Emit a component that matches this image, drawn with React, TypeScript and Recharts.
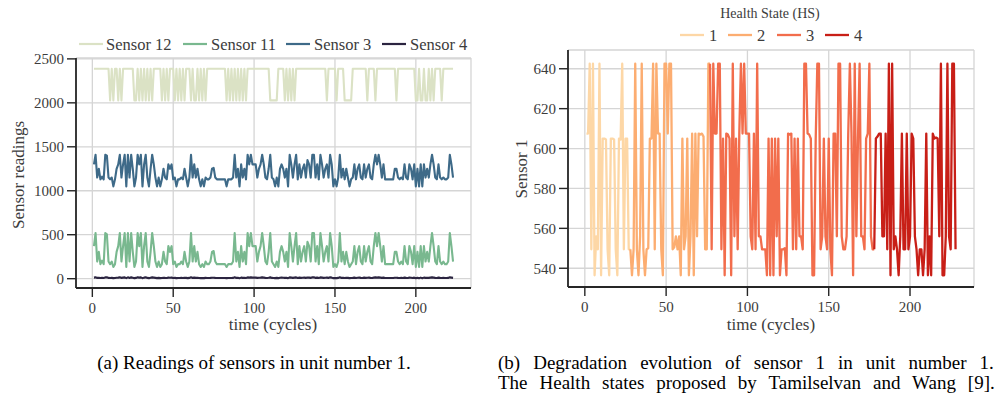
import React from 'react';
import { LineChart, Line, XAxis, YAxis, CartesianGrid } from 'recharts';

// ---------- Panel (a): readings of sensors in unit number 1 ----------
const sensor12 = [
  2388, 2388, 2388, 2388, 2388, 2388, 2388, 2388, 2388, 2388,
  2028, 2388, 2028, 2388, 2388, 2028, 2388, 2028, 2388, 2388,
  2388, 2388, 2388, 2388, 2388, 2028, 2028, 2388, 2028, 2388,
  2028, 2388, 2028, 2388, 2028, 2388, 2028, 2388, 2388, 2388,
  2388, 2388, 2028, 2388, 2028, 2388, 2028, 2388, 2388, 2388,
  2028, 2388, 2028, 2388, 2028, 2388, 2028, 2388, 2388, 2388,
  2028, 2388, 2028, 2028, 2388, 2028, 2388, 2028, 2388, 2028,
  2388, 2388, 2388, 2388, 2388, 2388, 2388, 2388, 2388, 2388,
  2388, 2388, 2028, 2388, 2028, 2388, 2028, 2388, 2028, 2388,
  2028, 2388, 2028, 2388, 2028, 2388, 2388, 2388, 2388, 2388,
  2388, 2388, 2388, 2388, 2388, 2388, 2388, 2388, 2388, 2028,
  2028, 2028, 2028, 2028, 2388, 2388, 2388, 2388, 2028, 2388,
  2028, 2388, 2028, 2388, 2028, 2388, 2388, 2388, 2388, 2388,
  2388, 2388, 2388, 2388, 2388, 2388, 2388, 2388, 2388, 2388,
  2388, 2388, 2388, 2388, 2028, 2388, 2388, 2388, 2388, 2388,
  2028, 2388, 2388, 2388, 2388, 2028, 2028, 2028, 2028, 2028,
  2388, 2388, 2388, 2388, 2388, 2388, 2388, 2388, 2388, 2028,
  2388, 2388, 2388, 2388, 2028, 2388, 2388, 2388, 2388, 2388,
  2388, 2388, 2388, 2388, 2388, 2388, 2388, 2028, 2388, 2388,
  2388, 2388, 2388, 2388, 2388, 2388, 2388, 2388, 2388, 2028,
  2028, 2388, 2028, 2028, 2388, 2028, 2028, 2388, 2028, 2388,
  2028, 2388, 2388, 2388, 2388, 2028, 2388, 2388, 2388, 2388,
  2388, 2388, 2388,
];

const sensor11 = [
  370, 520, 195, 305, 165, 205, 165, 520, 505, 195,
  165, 195, 133, 165, 305, 370, 520, 195, 370, 520,
  133, 520, 195, 520, 305, 133, 195, 520, 370, 520,
  133, 370, 520, 195, 133, 305, 520, 370, 195, 133,
  195, 133, 165, 305, 195, 165, 370, 305, 370, 165,
  195, 133, 165, 165, 195, 165, 305, 195, 133, 195,
  520, 195, 370, 195, 305, 165, 133, 165, 133, 195,
  165, 165, 195, 305, 315, 195, 165, 165, 165, 165,
  165, 165, 133, 165, 165, 165, 195, 520, 195, 305,
  133, 370, 195, 305, 165, 520, 370, 520, 370, 370,
  370, 195, 305, 370, 520, 370, 195, 165, 305, 520,
  195, 165, 133, 195, 133, 305, 370, 305, 195, 305,
  133, 520, 370, 195, 370, 520, 165, 370, 195, 305,
  370, 195, 420, 370, 195, 520, 520, 195, 370, 165,
  520, 370, 195, 305, 370, 195, 520, 370, 133, 165,
  133, 195, 520, 195, 305, 165, 305, 195, 133, 165,
  195, 370, 165, 305, 370, 195, 165, 370, 195, 305,
  370, 195, 165, 370, 520, 370, 520, 370, 195, 370,
  165, 165, 165, 165, 165, 165, 305, 305, 195, 165,
  195, 165, 370, 195, 165, 370, 305, 165, 370, 133,
  305, 133, 370, 133, 370, 195, 305, 195, 370, 520,
  370, 195, 165, 370, 195, 165, 195, 165, 165, 195,
  520, 370, 195,
];

const sensor3 = [
  1300, 1410, 1150, 1250, 1130, 1160, 1130, 1410, 1400, 1150,
  1130, 1150, 1050, 1130, 1250, 1300, 1410, 1150, 1300, 1410,
  1050, 1410, 1150, 1410, 1250, 1050, 1150, 1410, 1300, 1410,
  1050, 1300, 1410, 1150, 1050, 1250, 1410, 1300, 1150, 1050,
  1150, 1050, 1130, 1250, 1150, 1130, 1300, 1250, 1300, 1130,
  1150, 1050, 1130, 1130, 1150, 1130, 1250, 1150, 1050, 1150,
  1410, 1150, 1300, 1150, 1250, 1130, 1050, 1130, 1050, 1150,
  1130, 1130, 1150, 1250, 1260, 1150, 1130, 1130, 1130, 1130,
  1130, 1130, 1050, 1130, 1130, 1130, 1150, 1410, 1150, 1250,
  1050, 1300, 1150, 1250, 1130, 1410, 1300, 1410, 1300, 1300,
  1300, 1150, 1250, 1300, 1410, 1300, 1150, 1130, 1250, 1410,
  1150, 1130, 1050, 1150, 1050, 1250, 1300, 1250, 1150, 1250,
  1050, 1410, 1300, 1150, 1300, 1410, 1130, 1300, 1150, 1250,
  1300, 1150, 1350, 1300, 1150, 1410, 1410, 1150, 1300, 1130,
  1410, 1300, 1150, 1250, 1300, 1150, 1410, 1300, 1050, 1130,
  1050, 1150, 1410, 1150, 1250, 1130, 1250, 1150, 1050, 1130,
  1150, 1300, 1130, 1250, 1300, 1150, 1130, 1300, 1150, 1250,
  1300, 1150, 1130, 1300, 1410, 1300, 1410, 1300, 1150, 1300,
  1130, 1130, 1130, 1130, 1130, 1130, 1250, 1250, 1150, 1130,
  1150, 1130, 1300, 1150, 1130, 1300, 1250, 1130, 1300, 1050,
  1250, 1050, 1300, 1050, 1300, 1150, 1250, 1150, 1300, 1410,
  1300, 1150, 1130, 1300, 1150, 1130, 1150, 1130, 1130, 1150,
  1410, 1300, 1150,
];

const sensor4 = [
  12, 15, 9, 11, 8, 9, 8, 15, 15, 9,
  8, 9, 6, 8, 11, 12, 15, 9, 12, 15,
  6, 15, 9, 15, 11, 6, 9, 15, 12, 15,
  6, 12, 15, 9, 6, 11, 15, 12, 9, 6,
  9, 6, 8, 11, 9, 8, 12, 11, 12, 8,
  9, 6, 8, 8, 9, 8, 11, 9, 6, 9,
  15, 9, 12, 9, 11, 8, 6, 8, 6, 9,
  8, 8, 9, 11, 11, 9, 8, 8, 8, 8,
  8, 8, 6, 8, 8, 8, 9, 15, 9, 11,
  6, 12, 9, 11, 8, 15, 12, 15, 12, 12,
  12, 9, 11, 12, 15, 12, 9, 8, 11, 15,
  9, 8, 6, 9, 6, 11, 12, 11, 9, 11,
  6, 15, 12, 9, 12, 15, 8, 12, 9, 11,
  12, 9, 13, 12, 9, 15, 15, 9, 12, 8,
  15, 12, 9, 11, 12, 9, 15, 12, 6, 8,
  6, 9, 15, 9, 11, 8, 11, 9, 6, 8,
  9, 12, 8, 11, 12, 9, 8, 12, 9, 11,
  12, 9, 8, 12, 15, 12, 15, 12, 9, 12,
  8, 8, 8, 8, 8, 8, 11, 11, 9, 8,
  9, 8, 12, 9, 8, 12, 11, 8, 12, 6,
  11, 6, 12, 6, 12, 9, 11, 9, 12, 15,
  12, 9, 8, 12, 9, 8, 9, 8, 8, 9,
  15, 12, 9,
];

const seriesA = [
  { key: 's12', name: 'Sensor 12', color: '#dbe2c5' },
  { key: 's11', name: 'Sensor 11', color: '#79b88f' },
  { key: 's3', name: 'Sensor 3', color: '#3e6a88' },
  { key: 's4', name: 'Sensor 4', color: '#2b2440' },
];
const xTicksA = [0, 50, 100, 150, 200];
const yTicksA = [0, 500, 1000, 1500, 2000, 2500];

// ---------- Panel (b): sensor 1 with health states ----------
const sensor1 = [
  607.5, 607.5, 642.5, 549.5, 642.5, 536.5, 556, 549.5, 642.5, 536.5,
  605, 605, 604.5, 549.5, 536.5, 605, 605, 604.5, 549.5, 536.5,
  605, 604.5, 642.5, 549.5, 605, 605, 549.5, 549.5, 536.5, 549.5,
  642.5, 549.5, 536.5, 556, 642.5, 549.5, 536.5, 549.5, 550, 605,
  605, 642.5, 549.5, 642.5, 607.5, 607.5, 549.5, 536.5, 642.5, 642.5,
  607.5, 642.5, 642.5, 549.5, 550.5, 556, 549.5, 556, 536.5, 605,
  549.5, 556, 605, 536.5, 556, 607.5, 536.5, 607.5, 556, 607.5,
  607, 607.5, 606, 549.5, 549.5, 642.5, 642.5, 549.5, 642.5, 607.5,
  607.5, 642.5, 642.5, 549.5, 605, 536.5, 607.5, 607, 605, 536.5,
  642.5, 556, 605, 549.5, 607.5, 642.5, 607.5, 642.5, 607.5, 607.5,
  607.5, 556, 549.5, 607.5, 549.5, 642.5, 556, 556, 549.5, 549.5,
  549.5, 536.5, 605, 536.5, 605, 536.5, 605, 556, 605, 536.5,
  549.5, 549.5, 550, 536.5, 607.5, 607, 607.5, 549.5, 605, 549.5,
  605, 556, 556, 549.5, 642.5, 642.5, 607.5, 607, 605, 536.5,
  536.5, 605, 642.5, 642.5, 549.5, 556, 605, 556, 549.5, 605,
  549.5, 536.5, 607.5, 607.5, 556, 642.5, 642.5, 556, 549.5, 549.5,
  556, 607.5, 642.5, 607.5, 536.5, 642.5, 556, 605, 642.5, 556,
  556, 549.5, 605, 607.5, 642.5, 556, 549.5, 549.5, 605, 606,
  607.5, 607.5, 556, 556, 607.5, 549.5, 642.5, 536.5, 642.5, 549.5,
  556, 549.5, 536.5, 556, 607.5, 549.5, 549.5, 607.5, 549.5, 556,
  607.5, 605, 556, 549.5, 536.5, 549.5, 549.5, 536.5, 549.5, 607.5,
  536.5, 556, 536.5, 607.5, 605, 605.5, 605, 556, 642.5, 536.5,
  536.5, 556, 642.5, 556, 549.5, 642.5, 642.5, 549.5,
];

// first and last cycle of each health state (neighbouring states share a point)
const healthStateStart = [1, 28, 77, 178];
const healthStateEnd = [28, 77, 178, 228];
const healthStateLabels = ['1', '2', '3', '4'];
const healthStateColors = ['#fdd7a6', '#fcad71', '#f26d4c', '#c81f17'];
const xTicksB = [0, 50, 100, 150, 200];
const yTicksB = [540, 560, 580, 600, 620, 640];

const rowsA = sensor12.map((v, i) => ({
  cycle: i + 1,
  s12: v,
  s11: sensor11[i],
  s3: sensor3[i],
  s4: sensor4[i],
}));

const rowsB = sensor1.map((v, i) => {
  const cycle = i + 1;
  const row: Record<string, number> = { cycle };
  healthStateStart.forEach((s, k) => {
    if (cycle >= s && cycle <= healthStateEnd[k]) row['hs' + (k + 1)] = v;
  });
  return row;
});

const FONT = '"Liberation Serif", "DejaVu Serif", serif';
const tickStyle = { fill: '#3c3c3c', fontSize: 15, fontFamily: FONT };
const axisLineStyle = { stroke: '#262626', strokeWidth: 1.8 };
const tickLineStyle = { stroke: '#262626', strokeWidth: 1.4 };
const GRID = '#d5d5d5';

export default function App() {
  return (
    <div style={{ position: 'absolute', left: 0, top: 0, width: 998, height: 398, background: '#fff', overflow: 'hidden' }}>
      <div style={{ position: 'absolute', left: 0, top: 0 }}>
        <LineChart width={480} height={340} data={rowsA} margin={{ top: 58, right: 9, bottom: 22, left: 0 }}>
          <CartesianGrid stroke={GRID} strokeWidth={1.3} />
          <XAxis
            dataKey="cycle"
            type="number"
            domain={[-10.1, 234.1]}
            ticks={xTicksA}
            allowDataOverflow
            height={30}
            tickSize={9}
            tickMargin={5}
            tick={tickStyle}
            axisLine={axisLineStyle}
            tickLine={tickLineStyle}
          />
          <YAxis
            type="number"
            domain={[-106, 2510]}
            ticks={yTicksA}
            allowDataOverflow
            width={76}
            tickSize={9}
            tickMargin={3}
            tick={tickStyle}
            axisLine={axisLineStyle}
            tickLine={tickLineStyle}
          />
          {seriesA.map((s) => (
            <Line
              key={s.key}
              dataKey={s.key}
              name={s.name}
              type="linear"
              stroke={s.color}
              strokeWidth={2.1}
              dot={false}
              isAnimationActive={false}
              strokeLinejoin="round"
            />
          ))}
        </LineChart>
      </div>

      <div style={{ position: 'absolute', left: 490, top: 0 }}>
        <LineChart width={500} height={340} data={rowsB} margin={{ top: 50, right: 16, bottom: 23, left: 0 }}>
          <CartesianGrid stroke={GRID} strokeWidth={1.3} />
          <XAxis
            dataKey="cycle"
            type="number"
            domain={[-10.35, 239.35]}
            ticks={xTicksB}
            allowDataOverflow
            height={30}
            tickSize={9}
            tickMargin={5}
            tick={tickStyle}
            axisLine={axisLineStyle}
            tickLine={tickLineStyle}
          />
          <YAxis
            type="number"
            domain={[530.6, 649.4]}
            ticks={yTicksB}
            allowDataOverflow
            width={78}
            tickSize={9}
            tickMargin={3}
            tick={tickStyle}
            axisLine={axisLineStyle}
            tickLine={tickLineStyle}
          />
          {healthStateLabels.map((lab, k) => (
            <Line
              key={lab}
              dataKey={'hs' + (k + 1)}
              name={lab}
              type="linear"
              stroke={healthStateColors[k]}
              strokeWidth={2.3}
              dot={false}
              connectNulls={false}
              isAnimationActive={false}
              strokeLinejoin="round"
            />
          ))}
        </LineChart>
      </div>

      <svg width={998} height={398} style={{ position: 'absolute', left: 0, top: 0, pointerEvents: 'none' }}>
        {/* panel a legend */}
        {[
          { x: 79, tx: 106 },
          { x: 183, tx: 211 },
          { x: 286, tx: 314 },
          { x: 382, tx: 410 },
        ].map((p, i) => (
          <g key={i}>
            <line x1={p.x} x2={p.x + 24} y1={44} y2={44} stroke={seriesA[i].color} strokeWidth={2.2} />
            <text x={p.tx} y={44} dominantBaseline="central" fontFamily={FONT} fontSize={16.5} fill="#3c3c3c">
              {seriesA[i].name}
            </text>
          </g>
        ))}
        {/* panel a axis labels */}
        <text x={273} y={324} textAnchor="middle" dominantBaseline="central" fontFamily={FONT} fontSize={17} fill="#3c3c3c">
          time (cycles)
        </text>
        <text
          x={18}
          y={175}
          textAnchor="middle"
          dominantBaseline="central"
          fontFamily={FONT}
          fontSize={17}
          fill="#3c3c3c"
          transform="rotate(-90 18 175)"
        >
          Sensor readings
        </text>

        {/* panel b title and legend */}
        <text x={770} y={13} textAnchor="middle" dominantBaseline="central" fontFamily={FONT} fontSize={14} fill="#3c3c3c">
          Health State (HS)
        </text>
        {[680, 728, 777, 825].map((x, i) => (
          <g key={i}>
            <line x1={x} x2={x + 24} y1={35} y2={35} stroke={healthStateColors[i]} strokeWidth={2.3} />
            <text x={x + 29} y={35} dominantBaseline="central" fontFamily={FONT} fontSize={16.5} fill="#3c3c3c">
              {healthStateLabels[i]}
            </text>
          </g>
        ))}
        {/* panel b axis labels */}
        <text x={771} y={324} textAnchor="middle" dominantBaseline="central" fontFamily={FONT} fontSize={17} fill="#3c3c3c">
          time (cycles)
        </text>
        <text
          x={521}
          y={169}
          textAnchor="middle"
          dominantBaseline="central"
          fontFamily={FONT}
          fontSize={17}
          fill="#3c3c3c"
          transform="rotate(-90 521 169)"
        >
          Sensor 1
        </text>

        {/* captions */}
        <text x={254} y={369} textAnchor="middle" fontFamily={FONT} fontSize={19} fill="#000">
          (a) Readings of sensors in unit number 1.
        </text>
        <text x={498} y={369} fontFamily={FONT} fontSize={19} fill="#000" style={{ wordSpacing: '8.3px' }}>
          (b) Degradation evolution of sensor 1 in unit number 1.
        </text>
        <text x={498} y={389} fontFamily={FONT} fontSize={19} fill="#000" style={{ wordSpacing: '7.2px' }}>
          The Health states proposed by Tamilselvan and Wang [9].
        </text>
      </svg>
    </div>
  );
}
